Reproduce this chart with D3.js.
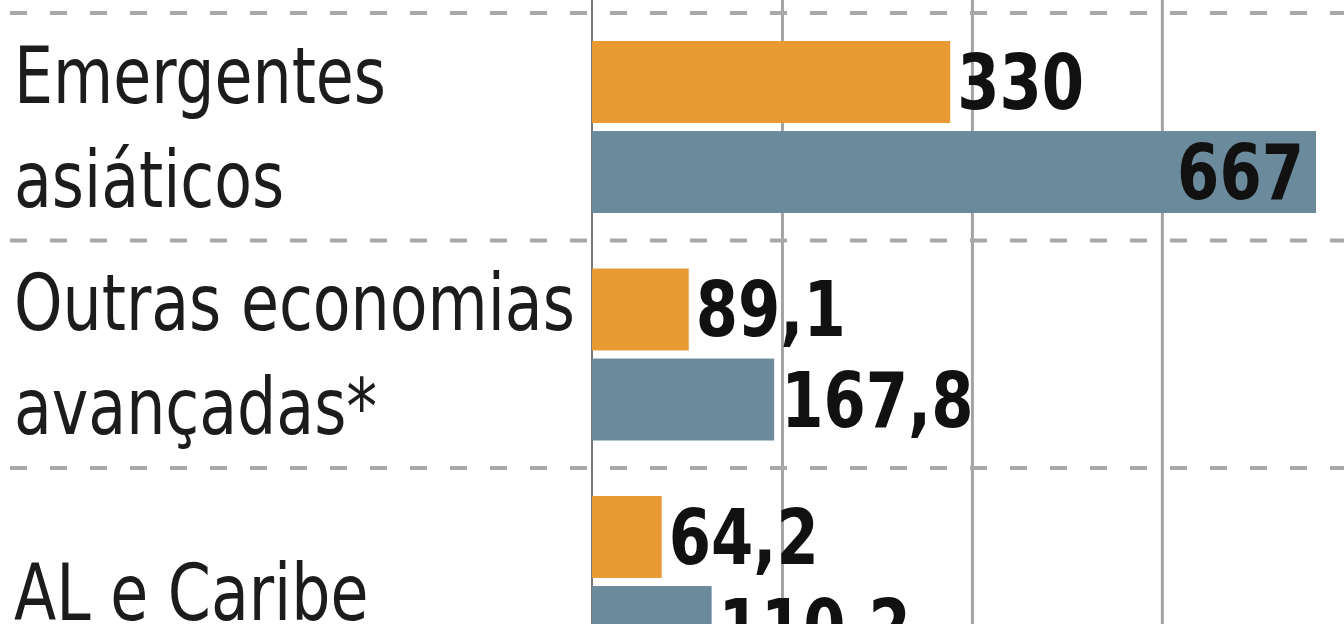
<!DOCTYPE html>
<html>
<head>
<meta charset="utf-8">
<script src="https://cdn.jsdelivr.net/npm/d3@7"></script>
<style>
  html, body { margin: 0; padding: 0; background: #fff; }
  svg { display: block; }
  .label { font-family: "DejaVu Sans Condensed", "DejaVu Sans", sans-serif; font-size: 78px; fill: #1c1c1c; }
  .value { font-family: "DejaVu Sans", sans-serif; font-weight: bold; font-size: 76px; fill: #111; }
</style>
</head>
<body>
<svg id="chart" width="1344" height="624"></svg>
<script>
// categorias (quebra de linha com \n)
const categories = ['Emergentes\nasiáticos', 'Outras economias\navançadas*', 'AL e Caribe'];
const seriesKeys = ['antes', 'depois'];
const valuesOrange = [330, 89.1, 64.2];
const valuesBlue = [667, 167.8, 110.2];
const valueLabelsOrange = ['330', '89,1', '64,2'];
const valueLabelsBlue = ['667', '167,8', '110,2'];
const gridTicks = [175, 350, 525];

const colors = { antes: '#e99a32', depois: '#6b8a9b' };

const width = 1344, height = 624;
const labelSqueeze = 0.88; // fonte condensada
const valueSqueeze = 0.8;
const svg = d3.select('#chart');

const x = d3.scaleLinear().domain([0, 667]).range([592, 1316]);

// each row is 227.5px tall, first separator at y=13
const rowStep = 227.5;
const y = d3.scaleBand()
    .domain(categories)
    .range([13, 13 + rowStep * categories.length])
    .paddingInner(0).paddingOuter(0);

const yInner = d3.scaleBand()
    .domain(seriesKeys)
    .range([28, 200])
    .paddingInner(0.09);

const rows = categories.map((c, i) => ({
    cat: c,
    bars: [
        { key: 'antes', value: valuesOrange[i], text: valueLabelsOrange[i] },
        { key: 'depois', value: valuesBlue[i], text: valueLabelsBlue[i] },
    ],
}));

// vertical grid
svg.append('g')
    .call(d3.axisTop(x).tickValues(gridTicks).tickSize(-height).tickFormat(''))
    .call(g => g.select('.domain').remove())
    .call(g => g.selectAll('.tick line').attr('stroke', '#a3a3a3').attr('stroke-width', 3));

// axis line at zero
svg.append('line')
    .attr('x1', x(0)).attr('x2', x(0))
    .attr('y1', 0).attr('y2', height)
    .attr('stroke', '#777').attr('stroke-width', 2);

// dashed separators
svg.append('g').selectAll('line')
    .data(categories)
    .join('line')
    .attr('x1', 0).attr('x2', width)
    .attr('y1', d => y(d)).attr('y2', d => y(d))
    .attr('stroke', '#a8a8a8')
    .attr('stroke-width', 4)
    .attr('stroke-dasharray', '17 23')
    .attr('stroke-dashoffset', -10);

const row = svg.append('g').selectAll('g.row')
    .data(rows)
    .join('g')
    .attr('class', 'row')
    .attr('transform', d => `translate(0,${y(d.cat)})`);

// category labels
const center = yInner.range()[0] + (yInner.range()[1] - yInner.range()[0]) / 2;
row.append('text')
    .attr('class', 'label')
    .attr('transform', `translate(14,0) scale(${labelSqueeze},1)`)
    .each(function(d) {
        const lines = d.cat.split('\n');
        const t = d3.select(this);
        const shift = lines.length === 1 ? 38 : 28;
        lines.forEach((ln, i) => {
            t.append('tspan')
                .attr('x', 0)
                .attr('y', center + shift + (i - (lines.length - 1) / 2) * 104)
                .text(ln);
        });
    });

// bars
row.selectAll('rect')
    .data(d => d.bars)
    .join('rect')
    .attr('x', x(0))
    .attr('y', d => yInner(d.key))
    .attr('width', d => x(d.value) - x(0))
    .attr('height', yInner.bandwidth())
    .attr('fill', d => colors[d.key]);

// value labels
const valueG = row.selectAll('g.val')
    .data(d => d.bars)
    .join('g')
    .attr('class', 'val');

valueG.append('text')
    .attr('class', 'value')
    .attr('transform', `scale(${valueSqueeze},1)`)
    .text(d => d.text);

valueG.each(function(d) {
    const txt = d3.select(this).select('text');
    const w = txt.node().getComputedTextLength() * valueSqueeze;
    const by = yInner(d.key) + yInner.bandwidth() / 2 + 27;
    if (x(d.value) + 8 + w > width) {
        d3.select(this).attr('transform', `translate(${x(d.value) - 12},${by})`);
        txt.attr('text-anchor', 'end');
    } else {
        d3.select(this).attr('transform', `translate(${x(d.value) + 7},${by})`);
        txt.attr('text-anchor', 'start');
    }
});
</script>
</body>
</html>
